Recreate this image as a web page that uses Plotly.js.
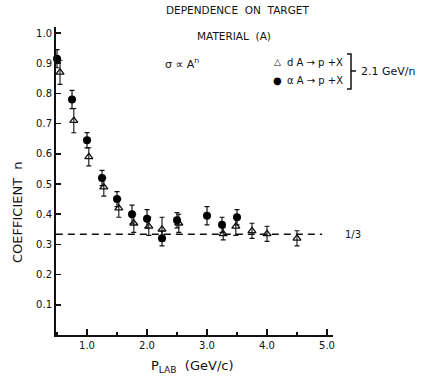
<!DOCTYPE html>
<html>
<head>
<meta charset="utf-8">
<script src="https://cdn.plot.ly/plotly-3.0.1.min.js"></script>
<style>html,body{margin:0;padding:0;background:#fff;}#chart{width:427px;height:381px;}</style>
</head>
<body>
<div id="chart"></div>
<script>
// alpha A -> p + X (filled circles)
const alphaP = [0.50, 0.75, 1.00, 1.25, 1.50, 1.75, 2.00, 2.25, 2.50, 3.00, 3.25, 3.50];
const alphaN = [0.915, 0.78, 0.645, 0.52, 0.45, 0.40, 0.385, 0.32, 0.38, 0.395, 0.365, 0.39];
const alphaErr = [0.03, 0.03, 0.025, 0.025, 0.025, 0.03, 0.03, 0.025, 0.025, 0.03, 0.025, 0.025];

// d A -> p + X (open symbols)
const deutP = [0.55, 0.78, 1.03, 1.28, 1.53, 1.78, 2.03, 2.25, 2.53, 3.27, 3.48, 3.75, 4.00, 4.50];
const deutN = [0.87, 0.71, 0.59, 0.49, 0.42, 0.37, 0.36, 0.35, 0.37, 0.335, 0.36, 0.345, 0.335, 0.32];
const deutErr = [0.04, 0.04, 0.03, 0.03, 0.03, 0.03, 0.03, 0.04, 0.03, 0.02, 0.03, 0.025, 0.025, 0.025];

// reference line n = 1/3
const refN = 1/3;
const refP = [0.48, 4.92];

const seriesNames = ['d A \u2192 p +X', '\u03b1 A \u2192 p +X'];

const xTickVals = [1, 2, 3, 4, 5];
const xTickText = ['1.0', '2.0', '3.0', '4.0', '5.0'];
const yTickVals = [0.1, 0.2, 0.3, 0.4, 0.5, 0.6, 0.7, 0.8, 0.9, 1.0];
const yTickText = ['0.1', '0.2', '0.3', '0.4', '0.5', '0.6', '0.7', '0.8', '0.9', '1.0'];

const W = 427, H = 381;
const M = {l: 56, r: 94, t: 27, b: 46};
const px = x => (x - M.l) / (W - M.l - M.r);
const py = y => (H - M.b - y) / (H - M.t - M.b);
const FONT = 'DejaVu Sans, Liberation Sans, sans-serif';

const traces = [
  {
    x: refP, y: refP.map(() => refN), mode: 'lines', showlegend: false,
    line: {color: '#111', width: 1.5, dash: '7px,5px'}, hoverinfo: 'skip'
  },
  {
    x: deutP, y: deutN, name: seriesNames[0], mode: 'markers', showlegend: false,
    marker: {symbol: 'triangle-up-open', size: 7, color: '#111', line: {width: 1.3, color: '#111'}},
    error_y: {type: 'data', array: deutErr, visible: true, color: '#111', thickness: 1.1, width: 2.5},
    cliponaxis: false
  },
  {
    x: alphaP, y: alphaN, name: seriesNames[1], mode: 'markers', showlegend: false,
    marker: {symbol: 'circle', size: 8, color: '#000'},
    error_y: {type: 'data', array: alphaErr, visible: true, color: '#111', thickness: 1.2, width: 2.5},
    cliponaxis: false
  }
];

const ann = (text, x, y, opts) => Object.assign({
  text, xref: 'paper', yref: 'paper', x: px(x), y: py(y),
  xanchor: 'left', yanchor: 'middle', showarrow: false,
  font: {family: FONT, size: 11, color: '#111'}
}, opts || {});

const layout = {
  width: W, height: H,
  margin: M,
  paper_bgcolor: '#fff', plot_bgcolor: '#fff',
  font: {family: FONT, color: '#111', size: 11},
  showlegend: false,
  xaxis: {
    range: [0.483, 5.1], showgrid: false, zeroline: false,
    showline: true, linecolor: '#111', linewidth: 2,
    ticks: 'inside', ticklen: 6, tickwidth: 1.5, tickcolor: '#111',
    tickvals: xTickVals, ticktext: xTickText,
    tickfont: {family: FONT, size: 10, color: '#111'},
    minor: {dtick: 0.5, tick0: 0, ticks: 'inside', ticklen: 3, tickwidth: 1.2, tickcolor: '#111', showgrid: false}
  },
  yaxis: {
    range: [0, 1.02], showgrid: false, zeroline: false,
    showline: true, linecolor: '#111', linewidth: 2,
    ticks: 'inside', ticklen: 5, tickwidth: 1.5, tickcolor: '#111',
    tickvals: yTickVals, ticktext: yTickText,
    tickfont: {family: FONT, size: 10, color: '#111'}
  },
  shapes: [
    {type: 'path', xref: 'paper', yref: 'paper',
     path: `M ${px(347)} ${py(54)} L ${px(351)} ${py(54)} L ${px(351)} ${py(89)} L ${px(347)} ${py(89)}`,
     line: {color: '#111', width: 1.5}},
    {type: 'line', xref: 'paper', yref: 'paper', x0: px(351), x1: px(356), y0: py(71), y1: py(71),
     line: {color: '#111', width: 1.5}}
  ],
  annotations: [
    ann('DEPENDENCE  ON  TARGET', 237, 10, {xanchor: 'center', font: {family: FONT, size: 10.5, color: '#111'}}),
    ann('MATERIAL  (A)', 234, 36, {xanchor: 'center', font: {family: FONT, size: 10.5, color: '#111'}}),
    ann('\u03c3 \u221d A<sup>n</sup>', 182, 64, {xanchor: 'center'}),
    ann('\u25b3', 277, 62, {xanchor: 'center', font: {family: FONT, size: 9, color: '#111'}}),
    ann('\u25cf', 277, 80, {xanchor: 'center', font: {family: FONT, size: 10, color: '#000'}}),
    ann(seriesNames[0], 285, 62, {font: {family: FONT, size: 10, color: '#111'}}),
    ann(seriesNames[1], 285, 80, {font: {family: FONT, size: 10, color: '#111'}}),
    ann('2.1 GeV/n', 359, 71),
    {text: '1/3', xref: 'paper', yref: 'y', x: px(343), y: refN,
     xanchor: 'left', yanchor: 'middle', showarrow: false, font: {family: FONT, size: 10, color: '#111'}},
    ann('COEFFICIENT  n', 17, 212, {xanchor: 'center', textangle: -90, font: {family: FONT, size: 13, color: '#111'}}),
    ann('P<sub>LAB</sub>  (GeV/c)', 192, 366, {xanchor: 'center', font: {family: FONT, size: 13, color: '#111'}})
  ]
};

Plotly.newPlot('chart', traces, layout, {displayModeBar: false, staticPlot: true});
</script>
</body>
</html>
